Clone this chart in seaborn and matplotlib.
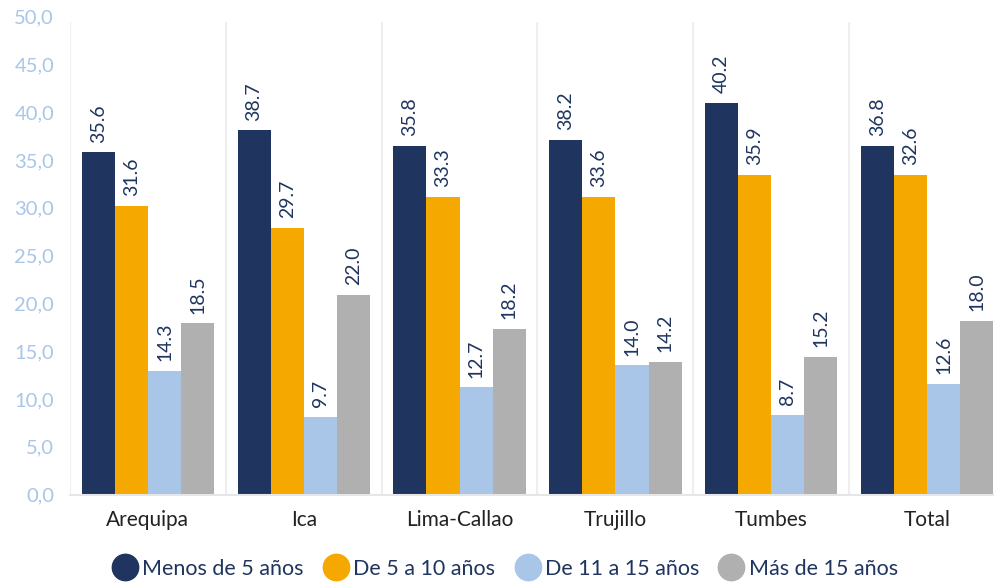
import pandas as pd
import seaborn as sns
import matplotlib.pyplot as plt
from matplotlib.lines import Line2D
from matplotlib.ticker import FuncFormatter

ciudades = ['Arequipa', 'Ica', 'Lima-Callao', 'Trujillo', 'Tumbes', 'Total']
grupos = ['Menos de 5 años', 'De 5 a 10 años', 'De 11 a 15 años', 'Más de 15 años']
colores = ['#1f3560', '#f5a800', '#a9c5e8', '#b0b0b0']

# bar heights as drawn
menos_5 = [35.8, 38.1, 36.5, 37.1, 41.0, 36.5]
de_5_10 = [30.2, 27.9, 31.1, 31.1, 33.4, 33.4]
de_11_15 = [12.9, 8.1, 11.2, 13.5, 8.3, 11.6]
mas_15 = [17.9, 20.9, 17.3, 13.9, 14.4, 18.2]

# labels as printed on the chart
lab_menos_5 = ['35.6', '38.7', '35.8', '38.2', '40.2', '36.8']
lab_5_10 = ['31.6', '29.7', '33.3', '33.6', '35.9', '32.6']
lab_11_15 = ['14.3', '9.7', '12.7', '14.0', '8.7', '12.6']
lab_mas_15 = ['18.5', '22.0', '18.2', '14.2', '15.2', '18.0']

series = [menos_5, de_5_10, de_11_15, mas_15]
etiquetas = [lab_menos_5, lab_5_10, lab_11_15, lab_mas_15]

rows = []
for g, vals in zip(grupos, series):
    for c, v in zip(ciudades, vals):
        rows.append({'ciudad': c, 'grupo': g, 'valor': v})
df = pd.DataFrame(rows)

sns.set_style('white')
plt.rcParams['font.family'] = ['Lato', 'DejaVu Sans']

texto = '#1f3560'

fig = plt.figure(figsize=(9.94, 5.84), dpi=100)
ax = fig.add_axes([70 / 994, 89.5 / 584, 935 / 994, 478 / 584])

sns.barplot(data=df, x='ciudad', y='valor', hue='grupo', palette=colores,
            width=0.85, saturation=1, linewidth=0, edgecolor='none',
            ax=ax, legend=False)

for cont, labs in zip(ax.containers, etiquetas):
    ax.bar_label(cont, labels=labs, rotation=90, padding=7, fontsize=14, color=texto)

ax.set_ylim(0, 50)
ax.set_xlim(-0.5, 5.5)
ax.set_yticks(range(0, 51, 5))
ax.yaxis.set_major_formatter(FuncFormatter(lambda v, p: f'{v:.1f}'.replace('.', ',')))
ax.tick_params(axis='y', labelsize=14.5, labelcolor='#a9c5e8', length=0, pad=11.5)
ax.tick_params(axis='x', labelsize=15, labelcolor='#222222', length=0, pad=11)
ax.set_xlabel('')
ax.set_ylabel('')

for x in [-0.5, 0.5, 1.5, 2.5, 3.5, 4.5]:
    ax.plot([x, x], [0, 49.3], color='#eeeeee', lw=1.5, zorder=0)

for s in ['top', 'right', 'left']:
    ax.spines[s].set_visible(False)
ax.spines['bottom'].set_color('#e6e6e6')
ax.spines['bottom'].set_linewidth(1.5)

handles = [Line2D([], [], marker='o', linestyle='', markersize=19,
                  markerfacecolor=c, markeredgecolor=c) for c in colores]
fig.legend(handles, grupos, loc='center', bbox_to_anchor=(0.508, 0.026), ncol=4,
           frameon=False, fontsize=15.5, labelcolor=texto, handletextpad=0.2,
           columnspacing=0.9, handlelength=1.2)

fig.savefig('out.png', dpi=100)
